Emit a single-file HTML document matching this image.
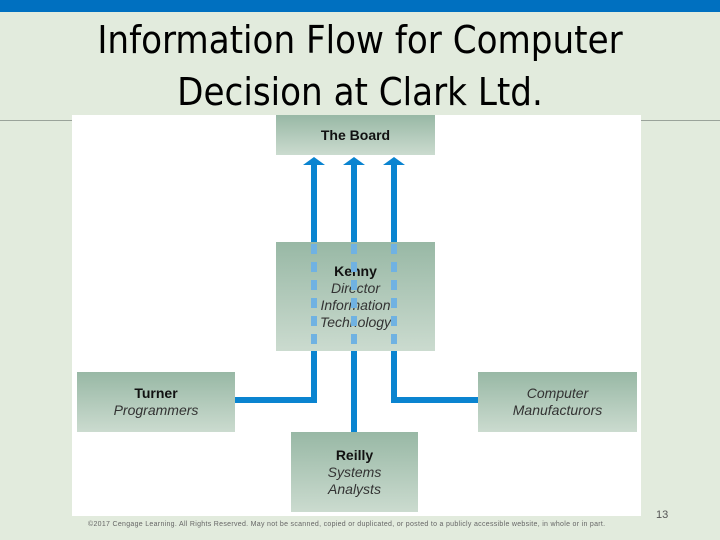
<!DOCTYPE html>
<html><head><style>
body{margin:0;width:720px;height:540px;overflow:hidden;background:#e2ebdd;position:relative;font-family:"Liberation Sans",sans-serif}
.bar{position:absolute;left:0;top:0;width:720px;height:12px;background:#0070c0}
.hl{position:absolute;left:0;top:120px;width:720px;height:1px;background:#9aa39a}
.title{position:absolute;left:0;top:14px;width:720px;text-align:center;font-size:38px;line-height:52px;color:#000;font-family:"DejaVu Sans Condensed","Liberation Sans Narrow","Liberation Sans",sans-serif}
.white{position:absolute;left:72px;top:115px;width:569px;height:401px;background:#fff}
.box{position:absolute;background:linear-gradient(#98b8a5,#cbdbcf);text-align:center;color:#222;font-size:14px;line-height:17px;font-family:"Liberation Sans Narrow","Liberation Sans",sans-serif;display:flex;flex-direction:column;justify-content:center}
.box b{color:#111}
.box i{color:#333}
.copy{position:absolute;left:88px;top:521px;font-size:7px;color:#666;letter-spacing:.3px}
.pg{position:absolute;left:656px;top:509px;font-size:11px;color:#555}
</style></head><body>
<div class="bar"></div><div class="hl"></div>
<div class="title">Information Flow for Computer<br>Decision at Clark Ltd.</div>
<div class="white"></div>
<div class="box" style="left:276px;top:115px;width:159px;height:40px"><b>The Board</b></div>
<div class="box" style="left:276px;top:242px;width:159px;height:109px;padding-top:0"><b>Kenny</b><i>Director</i><i>Information</i><i>Technology</i></div>
<div class="box" style="left:77px;top:372px;width:158px;height:60px"><b>Turner</b><i>Programmers</i></div>
<div class="box" style="left:478px;top:372px;width:159px;height:60px"><i>Computer</i><i>Manufacturors</i></div>
<div class="box" style="left:291px;top:432px;width:127px;height:80px"><b>Reilly</b><i>Systems</i><i>Analysts</i></div>
<svg width="720" height="540" style="position:absolute;left:0;top:0">
<g fill="#0a84d0">
<rect x="311" y="165" width="6" height="77"/><rect x="351" y="165" width="6" height="77"/><rect x="391" y="165" width="6" height="77"/>
<polygon points="303,165 314,157 325,165"/><polygon points="343,165 354,157 365,165"/><polygon points="383,165 394,157 405,165"/>
<rect x="311" y="351" width="6" height="52"/><rect x="235" y="397" width="82" height="6"/>
<rect x="351" y="351" width="6" height="81"/>
<rect x="391" y="351" width="6" height="52"/><rect x="391" y="397" width="87" height="6"/>
</g>
<g stroke="#70b2e2" stroke-width="6" stroke-dasharray="10,8">
<line x1="314" y1="244" x2="314" y2="351"/><line x1="354" y1="244" x2="354" y2="351"/><line x1="394" y1="244" x2="394" y2="351"/>
</g>
</svg>
<div class="copy">©2017 Cengage Learning. All Rights Reserved. May not be scanned, copied or duplicated, or posted to a publicly accessible website, in whole or in part.</div>
<div class="pg">13</div>
</body></html>
